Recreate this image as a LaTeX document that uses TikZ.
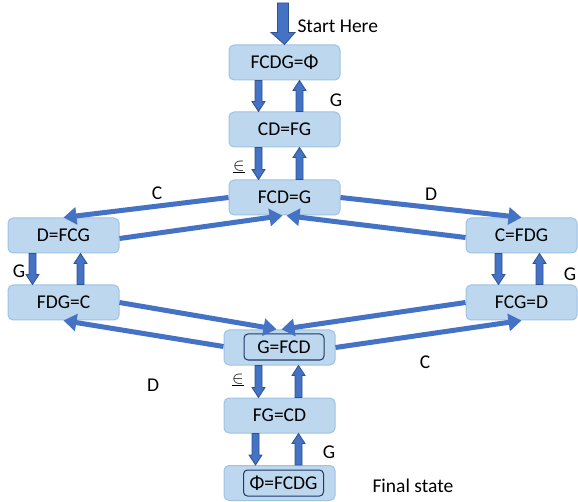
\documentclass[tikz,border=0pt]{standalone}
\usepackage{fontspec}
\setmainfont{Carlito}
\usetikzlibrary{arrows.meta}
\usetikzlibrary{calc}

\definecolor{boxfill}{HTML}{BDD7EE}
\definecolor{boxline}{HTML}{9DC3E6}
\definecolor{arrblue}{HTML}{4472C4}
\definecolor{arrdark}{HTML}{2F528F}
\definecolor{innerline}{HTML}{1F3864}

\tikzset{
  state/.style={rectangle, rounded corners=5pt, fill=boxfill, draw=boxline,
    line width=1pt, minimum width=111pt, minimum height=35pt,
    font=\fontsize{19.5}{21}\selectfont},
  innerbox/.style={rectangle, rounded corners=4pt, draw=innerline, line width=1pt,
    minimum width=80pt, minimum height=26pt, inner sep=0pt,
    font=\fontsize{19.5}{21}\selectfont},
  move/.style={arrblue, line width=5pt, -{Triangle[width=17pt,length=13pt]}},
  blockarr/.style={fill=arrblue, draw=arrdark, line width=0.8pt},
  lbl/.style={font=\fontsize{19.5}{21}\selectfont},
  eps/.style={font=\fontsize{16}{18}\selectfont},
}

% vertical block arrow: from, to, half shaft, half head, head length
\newcommand{\vblock}[5]{%
  \path let \p1=(#1), \p2=($(#2)!#5!(#1)$), \p3=(#2) in
    [blockarr] (\x1-#3,\y1) -- (\x1-#3,\y2) -- (\x1-#4,\y2) -- (\x3,\y3)
    -- (\x1+#4,\y2) -- (\x1+#3,\y2) -- (\x1+#3,\y1) -- cycle;}

\begin{document}
\begin{tikzpicture}[x=1pt,y=-1pt]
  \useasboundingbox (0,0) rectangle (578,502);

  % states
  \node[state] (fcdg) at (284.5,62.5) {FCDG=Φ};
  \node[state] (cdfg) at (284.5,129.5) {CD=FG};
  \node[state] (fcdg2) at (284.5,197.5) {FCD=G};
  \node[state] (dfcg) at (63.5,235.5) {D=FCG};
  \node[state] (fdgc) at (63.5,302.5) {FDG=C};
  \node[state] (cfdg) at (521.5,235.5) {C=FDG};
  \node[state] (fcgd) at (521.5,302.5) {FCG=D};
  \node[state] (gfcd) at (279.5,347.5) {};
  \node[innerbox] (gfcdin) at (284,347) {G=FCD};
  \node[state] (fgcd) at (279.5,415.5) {FG=CD};
  \node[state] (final) at (279.5,483) {};
  \node[innerbox] (finalin) at (283.5,483) {Φ=FCDG};

  % start
  \coordinate (start) at (283,3);
  \vblock{start}{fcdg.north}{5.5pt}{12pt}{12pt}
  \node[lbl, anchor=west] (starttxt) at (294,26) {Start Here};
  \node[lbl, anchor=west] (finaltxt) at (369,486) {Final state};

  % up and down moves
  \vblock{[xshift=-26pt]fcdg.south}{[xshift=-26pt]cdfg.north}{3.5pt}{6.5pt}{10pt}
  \vblock{[xshift=15pt]cdfg.north}{[xshift=15pt]fcdg.south}{3.5pt}{6.5pt}{10pt}
  \vblock{[xshift=-26pt]cdfg.south}{[xshift=-26pt]fcdg2.north}{3.5pt}{6.5pt}{10pt}
  \vblock{[xshift=15pt]fcdg2.north}{[xshift=15pt]cdfg.south}{3.5pt}{6.5pt}{10pt}
  \vblock{[xshift=-31pt]dfcg.south}{[xshift=-31pt]fdgc.north}{3.5pt}{6.5pt}{10pt}
  \vblock{[xshift=17pt]fdgc.north}{[xshift=17pt]dfcg.south}{3.5pt}{6.5pt}{10pt}
  \vblock{[xshift=-23pt]cfdg.south}{[xshift=-23pt]fcgd.north}{3.5pt}{6.5pt}{10pt}
  \vblock{[xshift=18pt]fcgd.north}{[xshift=18pt]cfdg.south}{3.5pt}{6.5pt}{10pt}
  \vblock{[xshift=-21pt]gfcd.south}{[xshift=-21pt]fgcd.north}{3.5pt}{6.5pt}{10pt}
  \vblock{[xshift=19pt]fgcd.north}{[xshift=19pt]gfcd.south}{3.5pt}{6.5pt}{10pt}
  \vblock{[xshift=-24pt]fgcd.south}{[xshift=-24pt]final.north}{3.5pt}{6.5pt}{10pt}
  \vblock{[xshift=19pt]final.north}{[xshift=19pt]fgcd.south}{3.5pt}{6.5pt}{10pt}

  % crossings
  \draw[move] (fcdg2.west) -- (dfcg.north);
  \draw[move, shorten >=1pt] ([yshift=-3pt]dfcg.east) -- ([xshift=-1pt]fcdg2.south);
  \draw[move] (fcdg2.east) -- (cfdg.north);
  \draw[move, shorten >=1pt] ([yshift=-2pt]cfdg.west) -- ([xshift=1pt]fcdg2.south);
  \draw[move, shorten >=1pt] (fdgc.east) -- ([xshift=-2pt]gfcd.north);
  \draw[move, shorten >=1pt] (fcgd.west) -- ([xshift=1pt]gfcd.north);
  \draw[move] ([yshift=1pt]gfcd.west) -- (fdgc.south);
  \draw[move] (gfcd.east) -- (fcgd.south);

  % labels
  \node[lbl] (lg1) at (336,100) {G};
  \node[eps] (le1) at (239,167) {$\underline{\in}$};
  \node[lbl] (lc1) at (157,193) {C};
  \node[lbl] (ld1) at (431,194) {D};
  \node[lbl] (lg2) at (19,271) {G};
  \node[lbl] (lg3) at (570,274) {G};
  \node[lbl] (ld2) at (153,385) {D};
  \node[lbl] (lc2) at (425,362) {C};
  \node[eps] (le2) at (238,380) {$\underline{\in}$};
  \node[lbl] (lg4) at (329,452) {G};
\end{tikzpicture}
\end{document}
